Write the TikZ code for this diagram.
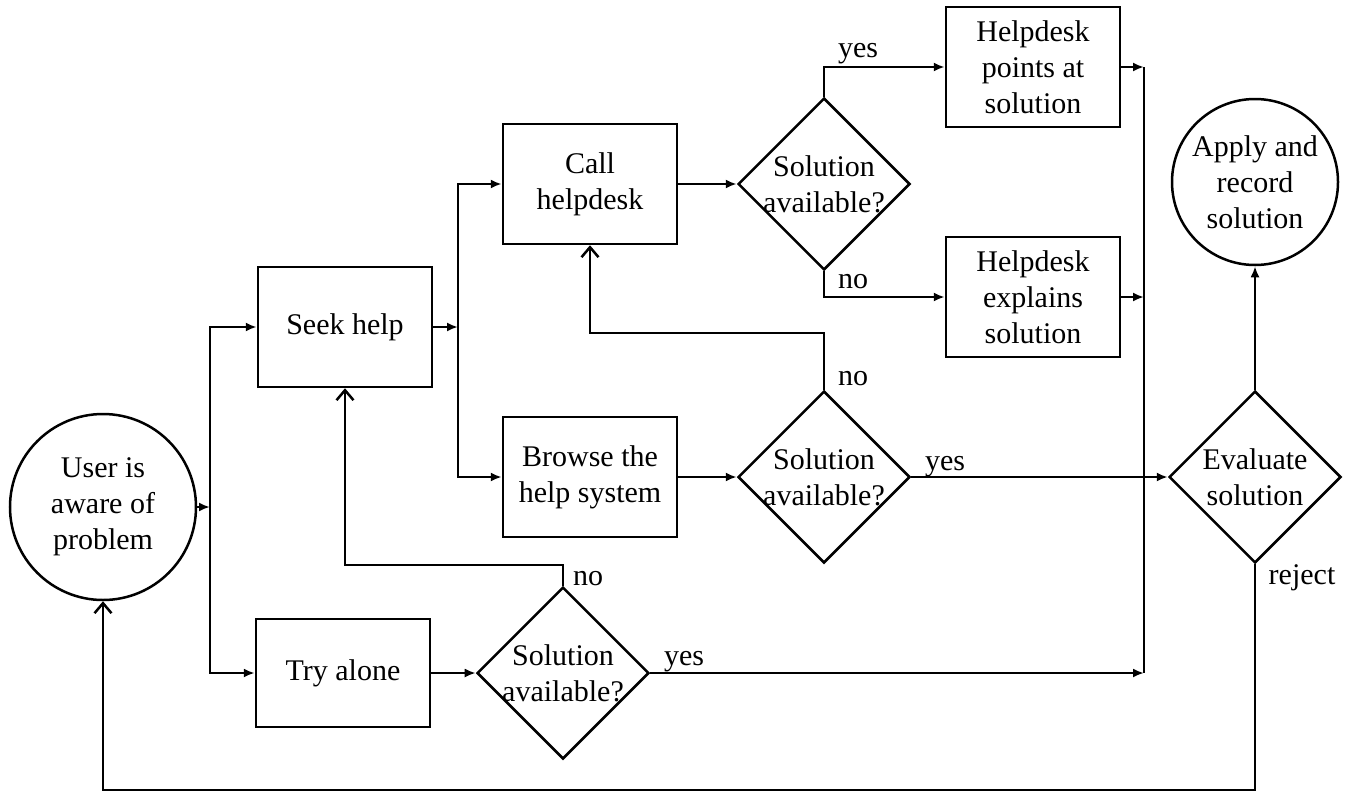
\documentclass[tikz,border=0pt]{standalone}
\usepackage{fontspec}
\setmainfont{Liberation Serif}
\usetikzlibrary{shapes.geometric,arrows.meta}
\begin{document}
\begin{tikzpicture}[x=1pt,y=-1pt,line width=2.5pt,
		font=\fontsize{30}{36}\selectfont,
		>={Latex[length=11pt,width=9pt]},
		box/.style={draw,rectangle,align=center,minimum width=174pt,minimum height=120pt,inner sep=0pt},
		ring/.style={draw,circle,align=center,inner sep=0pt},
		dia/.style={draw,diamond,aspect=1,align=center,inner sep=-4pt,minimum width=172pt,minimum height=172pt},
		lbl/.style={anchor=base,inner sep=0pt},
		back/.style={-{Straight Barb[length=10pt,width=17pt]}}]
			\useasboundingbox (0,0) rectangle (1347,793);
			\node (Us) at (103,507) [ring,minimum size=186pt] {User is\\aware of\\problem};
			\node (Se) at (345,327) [box] {Seek help};
			\node (Tr) at (343,673) [box,minimum height=108pt] {Try alone};
			\node (Ca) at (590,184) [box] {Call\\helpdesk};
			\node (Br) at (590,477) [box] {Browse the\\help system};
			\node (Sc) at (824,184) [dia] {Solution\\available?};
			\node (Sb) at (824,477) [dia] {Solution\\available?};
			\node (St) at (563,673) [dia] {Solution\\available?};
			\node (Hp) at (1033,67) [box] {Helpdesk\\points at\\solution};
			\node (He) at (1033,297) [box] {Helpdesk\\explains\\solution};
			\node (Ev) at (1255,477) [dia] {Evaluate\\solution};
			\node (Ap) at (1255,182) [ring,minimum size=166pt] {Apply and\\record\\solution};
			% junctions
			\coordinate (Jl) at (210,507);
			\coordinate (Jm) at (458,327);
			\coordinate (Rt) at (1144,67);
			\coordinate (Rm) at (1144,297);
			\coordinate (Rb) at (1144,673);
			\coordinate (Kc) at (590,333);
			\coordinate (Ks) at (345,565);
			\coordinate (Ku) at (103,790);
			% connectors
			\draw[->] (Us) -- (Jl);
			\draw[->] (Jl) |- (Se);
			\draw[->] (Jl) |- (Tr);
			\draw[->] (Se) -- (Jm);
			\draw[->] (Jm) |- (Ca);
			\draw[->] (Jm) |- (Br);
			\draw[->] (Ca) -- (Sc);
			\draw[->] (Br) -- (Sb);
			\draw[->] (Tr) -- (St);
			\draw[->] (Sc.north) |- (Hp);
			\draw[->] (Sc.south) |- (He);
			\draw (Rt) -- (Rb);
			\draw[->] (Hp) -- (Rt);
			\draw[->] (He) -- (Rm);
			\draw[->] (St) -- (Rb);
			\draw[->] (Sb) -- (Ev);
			\draw[->] (Ev) -- (Ap);
			\draw[back] (Sb.north) |- (Kc) -- (Ca);
			\draw[back] (St.north) |- (Ks) -- (Se);
			\draw[back] (Ev.south) |- (Ku) -- (Us);
			% labels
			\node[lbl] (Y1) at (858,57) {yes};
			\node[lbl] (N1) at (853,288) {no};
			\node[lbl] (N2) at (853,385) {no};
			\node[lbl] (Y2) at (945,470) {yes};
			\node[lbl] (N3) at (588,585) {no};
			\node[lbl] (Y3) at (684,665) {yes};
			\node[lbl] (Rj) at (1302,584) {reject};
		\end{tikzpicture}
\end{document}
